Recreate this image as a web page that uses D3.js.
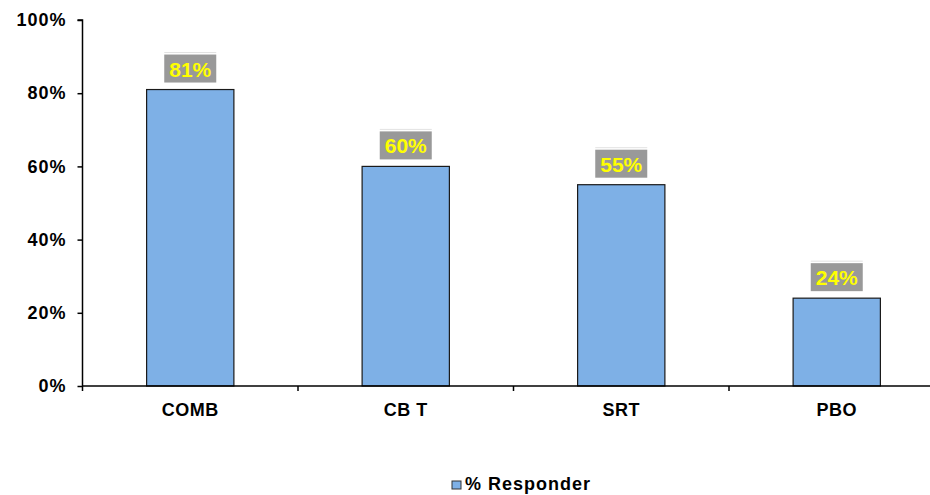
<!DOCTYPE html>
<html>
<head>
<meta charset="utf-8">
<script src="https://cdn.jsdelivr.net/npm/d3@7"></script>
<style>
  html, body { margin: 0; padding: 0; background: #fff; }
  svg { display: block; font-family: "Liberation Sans", Arial, sans-serif; font-weight: bold; }
</style>
</head>
<body>
<svg id="chart" width="930" height="495"></svg>
<script>
// Response rates by treatment arm
const categories = ["COMB", "CB T", "SRT", "PBO"];
const responderPct = [81, 60, 55, 24];
const yTicks = [0, 20, 40, 60, 80, 100];
const seriesName = "% Responder";

const svg = d3.select("#chart");
const x0 = 82.5, x1 = 944.5, yTop = 20, yBottom = 386;

const x = d3.scaleBand()
  .domain(categories)
  .range([x0, x1])
  .paddingInner(0.595)
  .paddingOuter(0.595 / 2);

const y = d3.scaleLinear().domain([0, 100]).range([yBottom, yTop]);

// Y axis
const yAxis = d3.axisLeft(y)
  .tickValues(yTicks)
  .tickSize(5)
  .tickPadding(11)
  .tickFormat(d => d + "%");
const gy = svg.append("g").attr("transform", `translate(${x0},0)`).call(yAxis);
gy.select(".domain").attr("stroke", "#000").attr("stroke-width", 1.5).attr("d", `M-5,${yTop}H0V${yBottom}`);
gy.selectAll(".tick line").attr("stroke", "#000").attr("stroke-width", 1.5);
gy.selectAll(".tick text")
  .attr("fill", "#000")
  .attr("font-size", 18)
  .attr("font-weight", "bold")
  .attr("letter-spacing", 1)
  .attr("font-family", "Liberation Sans, Arial, sans-serif");

// Bars
svg.append("g").selectAll("rect")
  .data(categories)
  .join("rect")
  .attr("x", d => x(d))
  .attr("y", (d, i) => y(responderPct[i]))
  .attr("width", x.bandwidth())
  .attr("height", (d, i) => yBottom - y(responderPct[i]))
  .attr("fill", "#7EB0E6")
  .attr("stroke", "#1a1a1a")
  .attr("stroke-width", 1.2);

// X axis line and tick marks at category boundaries
const step = x.step();
svg.append("line")
  .attr("x1", x0).attr("x2", 930)
  .attr("y1", yBottom).attr("y2", yBottom)
  .attr("stroke", "#000").attr("stroke-width", 1.5);
svg.append("g").selectAll("line")
  .data(d3.range(categories.length))
  .join("line")
  .attr("x1", i => x0 + i * step).attr("x2", i => x0 + i * step)
  .attr("y1", yBottom).attr("y2", yBottom + 5)
  .attr("stroke", "#000").attr("stroke-width", 1.5);

// Category labels
svg.append("g").selectAll("text")
  .data(categories)
  .join("text")
  .attr("x", d => x(d) + x.bandwidth() / 2)
  .attr("y", 416)
  .attr("text-anchor", "middle")
  .attr("font-size", 18)
  .attr("letter-spacing", 0.5)
  .attr("fill", "#000")
  .text(d => d);

// Value labels in gray boxes
const lbl = svg.append("g").selectAll("g")
  .data(categories)
  .join("g")
  .attr("transform", (d, i) => `translate(${x(d) + x.bandwidth() / 2},${y(responderPct[i]) - 7})`);
lbl.append("line")
  .attr("x1", -26).attr("x2", 26).attr("y1", -30).attr("y2", -30)
  .attr("stroke", "#e2e2e2").attr("stroke-width", 1);
lbl.append("rect")
  .attr("x", -26).attr("y", -28)
  .attr("width", 52).attr("height", 28)
  .attr("fill", "#999999");
lbl.append("text")
  .attr("y", -6)
  .attr("text-anchor", "middle")
  .attr("font-size", 21)
  .attr("fill", "#FFFF00")
  .text((d, i) => responderPct[i] + "%");

// Legend
const lg = svg.append("g").attr("transform", "translate(452,481)");
lg.append("rect")
  .attr("width", 9).attr("height", 8)
  .attr("fill", "#7EB0E6").attr("stroke", "#333").attr("stroke-width", 1);
lg.append("text")
  .attr("x", 13).attr("y", 9)
  .attr("font-size", 18)
  .attr("letter-spacing", 1)
  .attr("fill", "#000")
  .text(seriesName);
</script>
</body>
</html>
